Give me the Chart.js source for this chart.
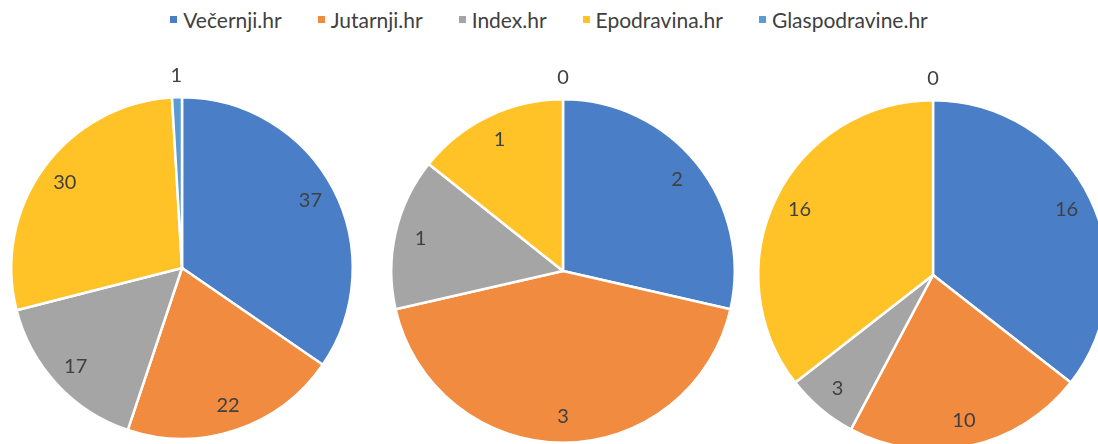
<!DOCTYPE html>
<html>
<head>
<meta charset="utf-8">
<script src="https://cdn.jsdelivr.net/npm/chart.js@4/dist/chart.umd.min.js"></script>
<style>
  html, body { margin: 0; padding: 0; background: #fff; }
  body { width: 1098px; height: 444px; overflow: hidden; position: relative; font-family: Lato, sans-serif; }
  canvas { position: absolute; }
  #legend { position: absolute; top: 7px; left: 0; width: 1098px; display: flex; justify-content: center; gap: 36px; padding-left: 0px; box-sizing: border-box; font-size: 21px; color: #404040; }
  #legend span.item { display: flex; align-items: center; }
  #legend i { display: inline-block; width: 7px; height: 7px; margin-right: 6px; }
</style>
</head>
<body>
<div id="legend"></div>
<canvas id="pie1" width="354" height="389" style="left:5px;top:56px"></canvas>
<canvas id="pie2" width="356" height="391" style="left:385px;top:58px"></canvas>
<canvas id="pie3" width="362" height="397" style="left:752px;top:59px"></canvas>
<script>
var portals = ['Večernji.hr', 'Jutarnji.hr', 'Index.hr', 'Epodravina.hr', 'Glaspodravine.hr'];
var colors = ['#4a7ec6', '#f08b3f', '#a5a5a5', '#ffc328', '#5b9bd5'];
var chart1Values = [37, 22, 17, 30, 1];
var chart2Values = [2, 3, 1, 1, 0];
var chart3Values = [16, 10, 3, 16, 0];

// html legend
var legend = document.getElementById('legend');
portals.forEach(function (name, i) {
  var item = document.createElement('span');
  item.className = 'item';
  item.innerHTML = '<i style="background:' + colors[i] + '"></i>' + name;
  legend.appendChild(item);
});

// value labels like excel "best fit"
var valueLabels = {
  id: 'valueLabels',
  afterDatasetsDraw: function (chart) {
    var ctx = chart.ctx;
    var meta = chart.getDatasetMeta(0);
    var values = chart.data.datasets[0].data;
    ctx.save();
    ctx.font = '20px Lato, sans-serif';
    ctx.fillStyle = '#404040';
    ctx.textAlign = 'center';
    ctx.textBaseline = 'middle';
    meta.data.forEach(function (arc, i) {
      var mid = (arc.startAngle + arc.endAngle) / 2;
      var span = arc.endAngle - arc.startAngle;
      var d = span < 0.15 ? arc.outerRadius + 22 : arc.outerRadius * 0.85;
      ctx.fillText(values[i], arc.x + Math.cos(mid) * d, arc.y + Math.sin(mid) * d);
    });
    ctx.restore();
  }
};

function makePie(id, values) {
  return new Chart(document.getElementById(id), {
    type: 'pie',
    data: {
      labels: portals,
      datasets: [{
        data: values,
        backgroundColor: colors,
        borderColor: '#ffffff',
        borderWidth: 2.5
      }]
    },
    options: {
      responsive: false,
      animation: false,
      layout: { padding: { top: 40, left: 5, right: 5, bottom: 5 } },
      plugins: {
        legend: { display: false },
        tooltip: { enabled: false }
      }
    },
    plugins: [valueLabels]
  });
}

makePie('pie1', chart1Values);
makePie('pie2', chart2Values);
makePie('pie3', chart3Values);
</script>
</body>
</html>
